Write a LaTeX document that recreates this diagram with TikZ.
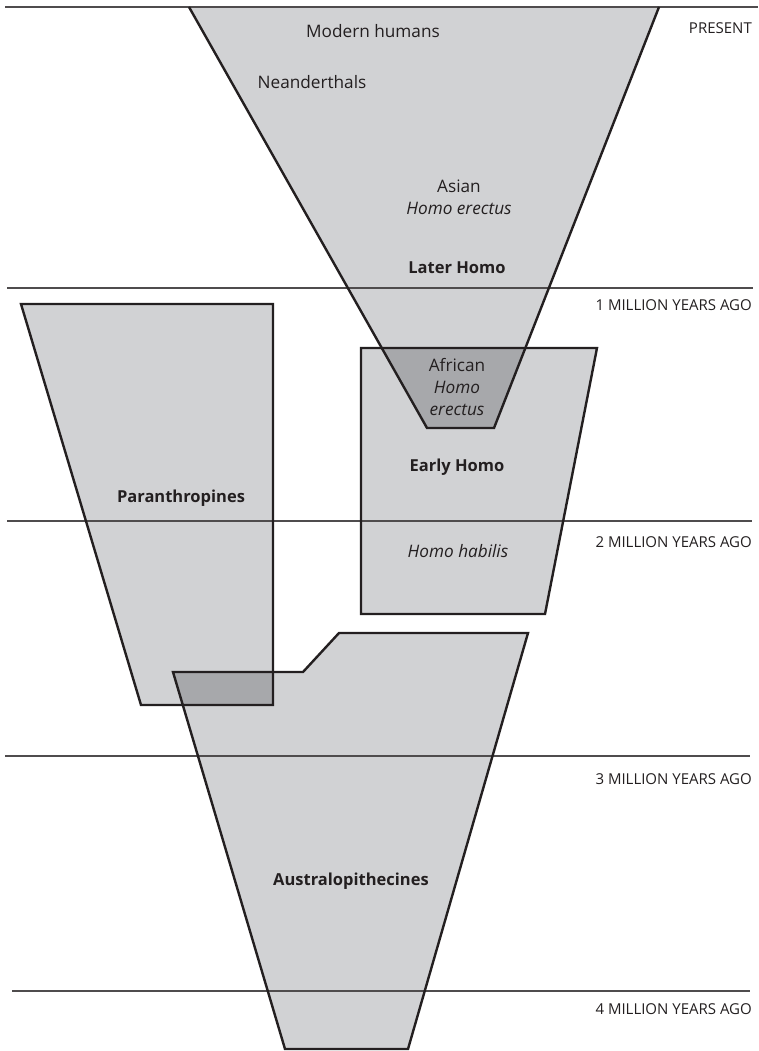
\documentclass[tikz,border=0pt]{standalone}
\usepackage{fontspec}
\setmainfont{Open Sans}

\definecolor{blobgray}{HTML}{D1D2D4}
\definecolor{overlapgray}{HTML}{A7A8AB}
\definecolor{ink}{HTML}{231F20}

\tikzset{
  blob/.style={draw=ink, line width=2.4pt, line join=miter},
  timeline/.style={draw=ink!80, line width=1.2pt},
  eratext/.style={anchor=east, inner sep=0pt, text=ink, font=\fontsize{15}{17}\selectfont},
  taxon/.style={inner sep=0pt, align=center, text=ink, font=\fontsize{17.2}{22}\selectfont},
  groupname/.style={taxon, font=\fontsize{16.5}{22}\selectfont\bfseries}
}

\begin{document}
\begin{tikzpicture}[x=1pt, y=-1pt]
    \useasboundingbox (0,0) rectangle (758,1051);

    % Later Homo funnel points
    \coordinate (LH1) at (189, 7);
    \coordinate (LH2) at (659, 7);
    \coordinate (LH3) at (494, 428);
    \coordinate (LH4) at (427, 428);

    % Early Homo points
    \coordinate (EH1) at (361, 348);
    \coordinate (EH2) at (597, 348);
    \coordinate (EH3) at (545, 614);
    \coordinate (EH4) at (361, 614);

    % Paranthropines points
    \coordinate (PA1) at (21, 304);
    \coordinate (PA2) at (273, 304);
    \coordinate (PA3) at (273, 705);
    \coordinate (PA4) at (141, 705);

    % Australopithecines points
    \coordinate (AU1) at (173, 672);
    \coordinate (AU2) at (303, 672);
    \coordinate (AU3) at (339, 633);
    \coordinate (AU4) at (528, 633);
    \coordinate (AU5) at (408, 1049);
    \coordinate (AU6) at (285, 1049);

    % Fill shapes
    \fill[blobgray] (LH1) -- (LH2) -- (LH3) -- (LH4) -- cycle;
    \fill[blobgray] (EH1) -- (EH2) -- (EH3) -- (EH4) -- cycle;
    \fill[blobgray] (PA1) -- (PA2) -- (PA3) -- (PA4) -- cycle;
    \fill[blobgray] (AU1) -- (AU2) -- (AU3) -- (AU4) -- (AU5) -- (AU6) -- cycle;

    % Overlaps in darker gray
    \begin{scope}
        \clip (LH1) -- (LH2) -- (LH3) -- (LH4) -- cycle;
        \fill[overlapgray] (EH1) -- (EH2) -- (EH3) -- (EH4) -- cycle;
    \end{scope}
    \begin{scope}
        \clip (PA1) -- (PA2) -- (PA3) -- (PA4) -- cycle;
        \fill[overlapgray] (AU1) -- (AU2) -- (AU3) -- (AU4) -- (AU5) -- (AU6) -- cycle;
    \end{scope}

    % Time lines
    \coordinate (T0a) at (5, 7);    \coordinate (T0b) at (758, 7);
    \coordinate (T1a) at (7, 288);  \coordinate (T1b) at (753, 288);
    \coordinate (T2a) at (7, 521);  \coordinate (T2b) at (752, 521);
    \coordinate (T3a) at (5, 756);  \coordinate (T3b) at (750, 756);
    \coordinate (T4a) at (12, 991); \coordinate (T4b) at (750, 991);
    \draw[timeline] (T0a) -- (T0b);
    \draw[timeline] (T1a) -- (T1b);
    \draw[timeline] (T2a) -- (T2b);
    \draw[timeline] (T3a) -- (T3b);
    \draw[timeline] (T4a) -- (T4b);

    % Outlines
    \draw[blob] (LH1) -- (LH4) -- (LH3) -- (LH2);
    \draw[blob] (EH1) -- (EH2) -- (EH3) -- (EH4) -- cycle;
    \draw[blob] (PA1) -- (PA2) -- (PA3) -- (PA4) -- cycle;
    \draw[blob] (AU1) -- (AU2) -- (AU3) -- (AU4) -- (AU5) -- (AU6) -- cycle;

    % Time labels
    \node[eratext] (present) at (752, 28) {PRESENT};
    \node[eratext] (mya1) at (752, 305) {1 MILLION YEARS AGO};
    \node[eratext] (mya2) at (752, 542) {2 MILLION YEARS AGO};
    \node[eratext] (mya3) at (752, 779) {3 MILLION YEARS AGO};
    \node[eratext] (mya4) at (752, 1009) {4 MILLION YEARS AGO};

    % Species and group labels
    \node[taxon] (modern) at (373, 31) {Modern humans};
    \node[taxon] (neander) at (312, 82) {Neanderthals};
    \node[taxon] (asian) at (459, 197) {Asian\\\textit{Homo erectus}};
    \node[groupname] (laterhomo) at (457, 268) {Later Homo};
    \node[taxon] (african) at (457, 387) {African\\\textit{Homo}\\\textit{erectus}};
    \node[groupname] (earlyhomo) at (457, 467) {Early Homo};
    \node[taxon] (habilis) at (458, 551) {\textit{Homo habilis}};
    \node[groupname] (paran) at (181, 498) {Paranthropines};
    \node[groupname] (austral) at (351, 881) {Australopithecines};
\end{tikzpicture}
\end{document}
